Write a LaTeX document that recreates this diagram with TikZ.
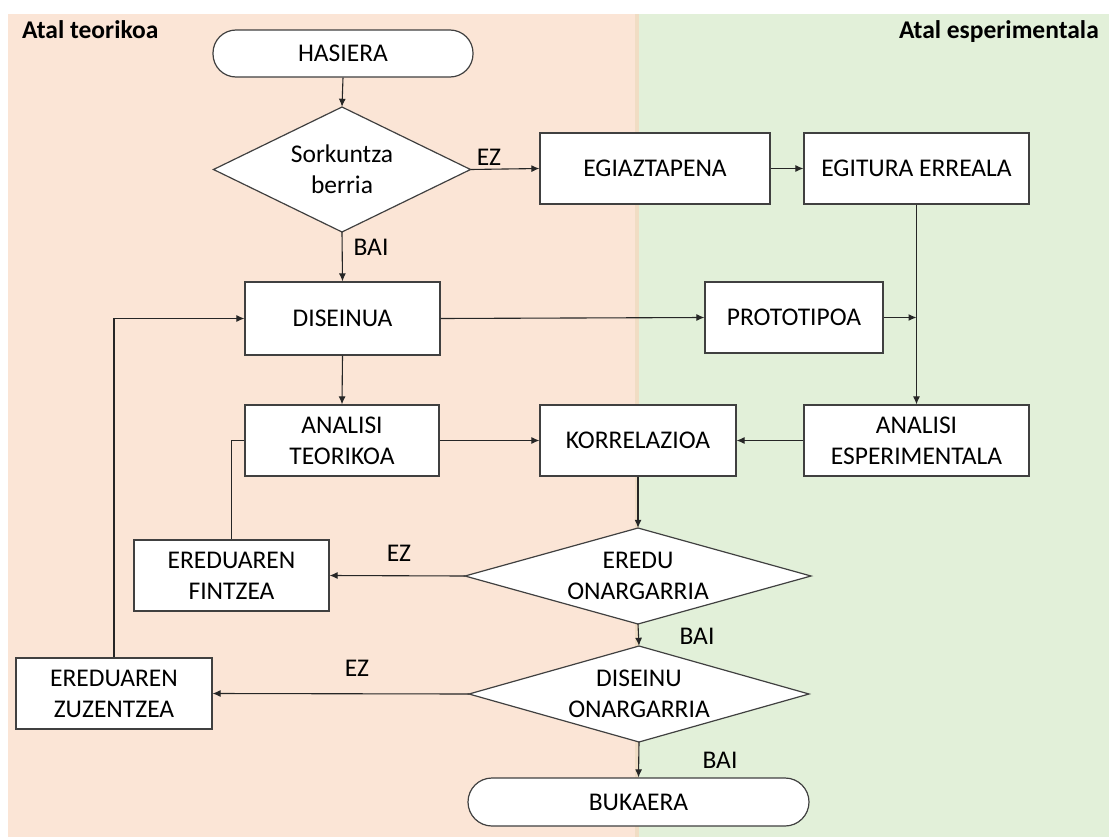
\documentclass[tikz,border=0pt]{standalone}
\usepackage{fontspec}
\setmainfont{Carlito}
\usetikzlibrary{arrows.meta}
\definecolor{pinkbg}{HTML}{FBE5D6}
\definecolor{greenbg}{HTML}{E2F0D9}
\definecolor{stripe}{HTML}{F0DDC4}
\definecolor{edge}{HTML}{404040}
\tikzset{
  every node/.style={font=\fontsize{25.5bp}{31bp}\selectfont, text=black},
  procbox/.style={draw=edge, fill=white, line width=1.2bp, rectangle, minimum width=#1, minimum height=71bp, align=center, inner sep=0pt},
  procbox/.default=195bp,
  term/.style={draw=edge, fill=white, line width=1.2bp, rectangle, rounded corners=23bp, minimum width=#1, minimum height=47bp, inner sep=0pt},
  decidetext/.style={rectangle, inner sep=0pt, align=center},
  decideshape/.style={draw=edge, fill=white, line width=1.2bp, line join=miter},
  conn/.style={draw=black!85, line width=1.1bp, -{Latex[length=8bp,width=7bp]}},
  plain/.style={draw=black!85, line width=1.1bp},
  lbl/.style={inner sep=0pt},
  title/.style={font=\fontsize{25.5bp}{31bp}\selectfont\bfseries, inner sep=0pt}
}
% #1 name, #2 x, #3 y, #4 width, #5 height, #6 text
\newcommand\mydecision[6]{%
  \path[decideshape] ({#2-#4/2},#3) -- (#2,{#3-#5/2}) -- ({#2+#4/2},#3) -- (#2,{#3+#5/2}) -- cycle;
  \node[decidetext, minimum width=#4 bp, minimum height=#5 bp] (#1) at (#2,#3) {#6};%
}
\begin{document}
\begin{tikzpicture}[x=1bp,y=-1bp]
\useasboundingbox (0,0) rectangle (1109,837);
% backgrounds
\fill[pinkbg] (8,14) rectangle (636,837);
\fill[greenbg] (639,14) rectangle (1109,837);
\fill[stripe] (635,14) rectangle (639,837);
\node[title, anchor=base west] (t1) at (22,38) {Atal teorikoa};
\node[title, anchor=base east] (t2) at (1099,38) {Atal esperimentala};
% nodes
\node[term=260bp] (hasiera) at (343,53.5) {HASIERA};
\mydecision{sork}{342}{169.5}{257}{125}{Sorkuntza\\berria}
\node[procbox=230bp] (egiaz) at (655,168.5) {EGIAZTAPENA};
\node[procbox=225bp] (egitura) at (916.5,168.5) {EGITURA ERREALA};
\node[procbox=195bp, minimum height=73bp] (diseinua) at (342.5,318.5) {DISEINUA};
\node[procbox=178bp] (proto) at (794,317.5) {PROTOTIPOA};
\node[procbox=194bp] (anteor) at (342,440.5) {ANALISI\\TEORIKOA};
\node[procbox=196bp] (korr) at (638,440.5) {KORRELAZIOA};
\node[procbox=225bp] (anesp) at (916.5,440.5) {ANALISI\\ESPERIMENTALA};
\node[procbox=195bp] (fintzea) at (231.5,575.5) {EREDUAREN\\FINTZEA};
\mydecision{eredu}{638}{576}{346}{96}{EREDU\\ONARGARRIA}
\mydecision{diseinu}{639}{694}{340}{96}{DISEINU\\ONARGARRIA}
\node[procbox=196bp] (zuzen) at (114,693.5) {EREDUAREN\\ZUZENTZEA};
\node[term=341bp, minimum height=48bp, rounded corners=24bp] (bukaera) at (638.5,802) {BUKAERA};
% connectors
\draw[conn] (hasiera.south) -- (sork.north);
\draw[conn] (sork.east) -- (egiaz.west);
\node[lbl] (ez1) at (489,157) {EZ};
\draw[conn] (sork.south) -- (diseinua.north);
\node[lbl] (bai1) at (371,247) {BAI};
\draw[conn] (egiaz.east) -- (egitura.west);
\draw[conn] (egitura.south) -- (anesp.north);
\coordinate (j) at (egitura.south |- proto.east);
\draw[conn] (diseinua.east) -- (proto.west);
\draw[conn] (proto.east) -- (j);
\draw[conn] (diseinua.south) -- (anteor.north);
\draw[conn] (anteor.east) -- (korr.west);
\draw[conn] (anesp.west) -- (korr.east);
\draw[plain] (anteor.west) -| (fintzea.north);
\draw[conn] (korr.south) -- (eredu.north);
\draw[conn] (eredu.west) -- (fintzea.east);
\node[lbl] (ez2) at (399,553) {EZ};
\draw[conn] (eredu.south) -- (diseinu.north);
\node[lbl] (bai2) at (697,636) {BAI};
\draw[conn] (diseinu.west) -- (zuzen.east);
\node[lbl] (ez3) at (357,668) {EZ};
\draw[conn] (zuzen.north) |- (diseinua.west);
\draw[conn] (diseinu.south) -- (bukaera.north);
\node[lbl] (bai3) at (720,760) {BAI};
\end{tikzpicture}
\end{document}
